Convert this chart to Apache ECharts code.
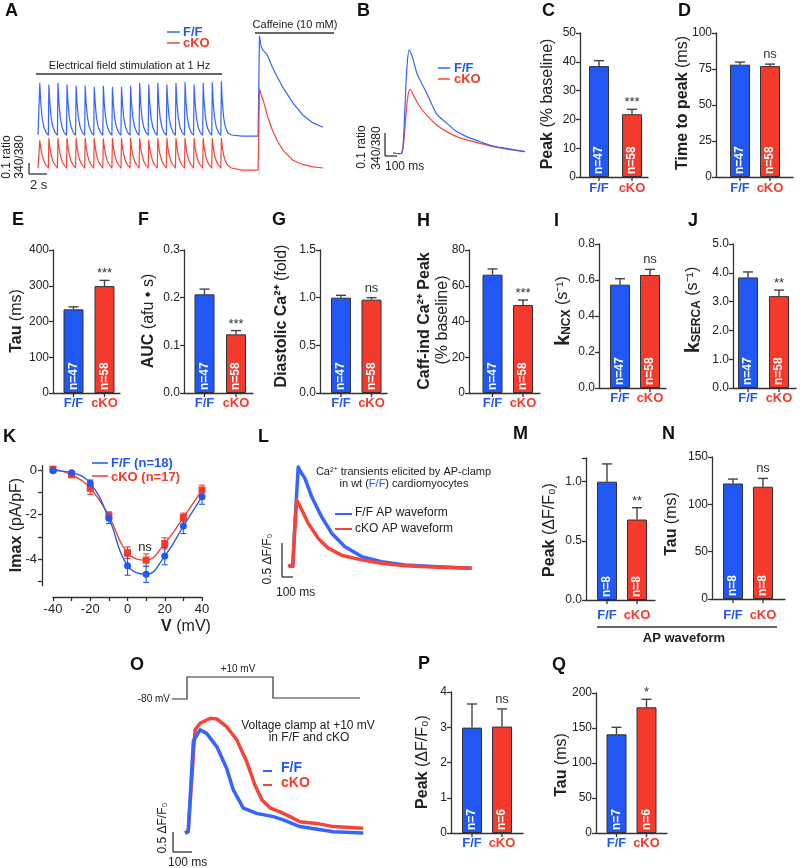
<!DOCTYPE html>
<html><head><meta charset="utf-8">
<script src="https://cdn.jsdelivr.net/npm/echarts@6/dist/echarts.min.js"></script>
<style>html,body{margin:0;padding:0;background:#fff}#c{width:800px;height:868px}</style>
</head><body><div id="c"></div>
<script>
// ================= DATA =================
const groups = ['F/F', 'cKO'];
// Panel A: field stimulation + caffeine, [time s, ratio]
const fieldStimFF = [
[0,0.30],
[0.14,0.30],[0.2,0.77],[0.3,0.60],[0.45,0.46],[0.65,0.37],[0.9,0.32],
[1.14,0.30],[1.2,0.755],[1.3,0.60],[1.45,0.46],[1.65,0.37],[1.9,0.32],
[2.14,0.30],[2.2,0.77],[2.3,0.60],[2.45,0.46],[2.65,0.37],[2.9,0.32],
[3.14,0.30],[3.2,0.755],[3.3,0.60],[3.45,0.46],[3.65,0.37],[3.9,0.32],
[4.14,0.30],[4.2,0.745],[4.3,0.59],[4.45,0.46],[4.65,0.37],[4.9,0.32],
[5.14,0.30],[5.2,0.745],[5.3,0.59],[5.45,0.46],[5.65,0.37],[5.9,0.32],
[6.14,0.30],[6.2,0.733],[6.3,0.59],[6.45,0.45],[6.65,0.37],[6.9,0.32],
[7.14,0.30],[7.2,0.745],[7.3,0.59],[7.45,0.46],[7.65,0.37],[7.9,0.32],
[8.14,0.30],[8.2,0.733],[8.3,0.59],[8.45,0.45],[8.65,0.37],[8.9,0.32],
[9.14,0.30],[9.2,0.733],[9.3,0.59],[9.45,0.45],[9.65,0.37],[9.9,0.32],
[10.14,0.30],[10.2,0.745],[10.3,0.59],[10.45,0.46],[10.65,0.37],[10.9,0.32],
[11.14,0.30],[11.2,0.77],[11.3,0.60],[11.45,0.46],[11.65,0.37],[11.9,0.32],
[12.14,0.30],[12.2,0.755],[12.3,0.60],[12.45,0.46],[12.65,0.37],[12.9,0.32],
[13.14,0.30],[13.2,0.77],[13.3,0.60],[13.45,0.46],[13.65,0.37],[13.9,0.32],
[14.14,0.30],[14.2,0.755],[14.3,0.60],[14.45,0.46],[14.65,0.37],[14.9,0.32],
[15.14,0.30],[15.2,0.77],[15.3,0.60],[15.45,0.46],[15.65,0.37],[15.9,0.32],
[16.14,0.30],[16.2,0.776],[16.3,0.60],[16.45,0.46],[16.65,0.37],[16.9,0.32],
[17.14,0.30],[17.2,0.755],[17.3,0.60],[17.45,0.46],[17.65,0.37],[17.9,0.32],
[18.14,0.30],[18.2,0.77],[18.3,0.60],[18.45,0.46],[18.65,0.37],[18.9,0.32],
[19.14,0.30],[19.2,0.776],[19.3,0.60],[19.45,0.46],[19.65,0.37],[19.9,0.32],
[20.14,0.30],[20.2,0.785],[20.3,0.61],[20.45,0.46],[20.65,0.37],[20.9,0.32],
[21.3,0.30],[22.5,0.29],[23.5,0.29],[24.25,0.29],[24.4,1.20],[24.6,1.10],[24.8,1.07],[25.25,1.03],[25.8,0.92],[26.35,0.83],[27.0,0.73],[28.1,0.59],[29.2,0.48],[30.3,0.41],[31.4,0.37]
];
const fieldStimCKO = [
[0,0.0],
[0.14,0.0],[0.2,0.25],[0.3,0.18],[0.45,0.12],[0.65,0.06],[0.9,0.025],
[1.14,0.0],[1.2,0.27],[1.3,0.19],[1.45,0.12],[1.65,0.06],[1.9,0.025],
[2.14,0.0],[2.2,0.27],[2.3,0.19],[2.45,0.12],[2.65,0.06],[2.9,0.025],
[3.14,0.0],[3.2,0.27],[3.3,0.19],[3.45,0.12],[3.65,0.06],[3.9,0.025],
[4.14,0.0],[4.2,0.27],[4.3,0.19],[4.45,0.12],[4.65,0.06],[4.9,0.025],
[5.14,0.0],[5.2,0.27],[5.3,0.19],[5.45,0.12],[5.65,0.06],[5.9,0.025],
[6.14,0.0],[6.2,0.27],[6.3,0.19],[6.45,0.12],[6.65,0.06],[6.9,0.025],
[7.14,0.0],[7.2,0.265],[7.3,0.19],[7.45,0.12],[7.65,0.06],[7.9,0.025],
[8.14,0.0],[8.2,0.27],[8.3,0.19],[8.45,0.12],[8.65,0.06],[8.9,0.025],
[9.14,0.0],[9.2,0.27],[9.3,0.19],[9.45,0.12],[9.65,0.06],[9.9,0.025],
[10.14,0.0],[10.2,0.27],[10.3,0.19],[10.45,0.12],[10.65,0.06],[10.9,0.025],
[11.14,0.0],[11.2,0.27],[11.3,0.19],[11.45,0.12],[11.65,0.06],[11.9,0.025],
[12.14,0.0],[12.2,0.255],[12.3,0.18],[12.45,0.12],[12.65,0.06],[12.9,0.025],
[13.14,0.0],[13.2,0.27],[13.3,0.19],[13.45,0.12],[13.65,0.06],[13.9,0.025],
[14.14,0.0],[14.2,0.27],[14.3,0.19],[14.45,0.12],[14.65,0.06],[14.9,0.025],
[15.14,0.0],[15.2,0.27],[15.3,0.19],[15.45,0.12],[15.65,0.06],[15.9,0.025],
[16.14,0.0],[16.2,0.27],[16.3,0.19],[16.45,0.12],[16.65,0.06],[16.9,0.025],
[17.14,0.0],[17.2,0.27],[17.3,0.19],[17.45,0.12],[17.65,0.06],[17.9,0.025],
[18.14,0.0],[18.2,0.27],[18.3,0.19],[18.45,0.12],[18.65,0.06],[18.9,0.025],
[19.14,0.0],[19.2,0.27],[19.3,0.19],[19.45,0.12],[19.65,0.06],[19.9,0.025],
[20.14,0.0],[20.2,0.27],[20.3,0.19],[20.45,0.12],[20.65,0.06],[20.9,0.025],
[21.3,0.0],[22.5,-0.02],[23.5,-0.02],[24.25,-0.02],[24.4,0.72],[24.6,0.66],[24.8,0.62],[25.25,0.48],[25.8,0.35],[26.35,0.25],[27.0,0.16],[28.1,0.07],[29.2,0.03],[30.3,0.01],[31.4,0.0]
];
// Panel B: averaged transient, [time ms, ratio]
const avgTransientFF = [[0,0],[50,-0.003],[72,0],[85,0.04],[100,0.2],[117,0.38],[136,0.448],[169,0.404],[197,0.35],[225,0.317],[281,0.26],[364,0.17],[447,0.13],[531,0.093],[614,0.071],[725,0.049],[833,0.03],[947,0.02],[1100,0.006]];
const avgTransientCKO = [[0,0],[50,-0.003],[74,0],[90,0.05],[110,0.18],[125,0.25],[142,0.277],[183,0.238],[225,0.20],[281,0.165],[364,0.122],[447,0.093],[531,0.071],[614,0.057],[725,0.042],[833,0.028],[947,0.017],[1100,0.006]];
// Panels C-J bars
const peakBaseline = [38.5, 21.8], peakBaselineErr = [1.9, 1.7];
const timeToPeak = [78, 77], timeToPeakErr = [1.8, 1.4];
const tauMs = [234, 299], tauMsErr = [7, 16];
const aucAfu = [0.207, 0.123], aucAfuErr = [0.011, 0.008];
const diastolicCa = [1.0, 0.979], diastolicCaErr = [0.025, 0.021];
const caffPeak = [66.2, 49.2], caffPeakErr = [3.2, 2.8];
const kNcx = [0.574, 0.628], kNcxErr = [0.033, 0.031];
const kSerca = [3.84, 3.19], kSercaErr = [0.19, 0.21];
const nCellsA = ['n=47', 'n=58'];
// Panel K: I-V
const kVoltage = [-40, -30, -20, -10, 0, 10, 20, 30, 40];
const imaxFF = [-0.03, -0.12, -0.6, -2.17, -4.3, -4.69, -3.87, -2.52, -1.2];
const imaxFFErr = [0.05, 0.05, 0.15, 0.24, 0.43, 0.36, 0.39, 0.34, 0.34];
const imaxCKO = [0.04, -0.22, -0.82, -2.07, -3.72, -4.05, -3.3, -2.13, -0.9];
const imaxCKOErr = [0.08, 0.06, 0.28, 0.19, 0.26, 0.28, 0.25, 0.19, 0.22];
// Panel L: AP-clamp transients [time ms, dF/F0]
const apClampFF = [[0,0.05],[20,0.03],[38,0.03],[60,0.8],[85,1.56],[100,1.5],[143,1.38],[200,1.10],[285,0.79],[371,0.54],[485,0.33],[627,0.18],[798,0.10],[997,0.05],[1279,0.025],[1567,0.0]];
const apClampCKO = [[0,0.05],[20,0.03],[38,0.03],[55,0.6],[72,1.05],[115,0.90],[171,0.69],[256,0.46],[342,0.31],[456,0.20],[627,0.13],[798,0.077],[997,0.04],[1279,0.015],[1567,0.0]];
// Panels M, N
const apPeak = [1.0, 0.68], apPeakErr = [0.15, 0.10];
const apTau = [122, 118.6], apTauErr = [4.7, 8.8];
const nCellsB = ['n=8', 'n=8'];
// Panel O: voltage clamp transients [time ms, dF/F0]
const vClampFF = [[0,0],[17,0.03],[44,2.3],[79,2.58],[114,2.49],[167,2.16],[219,1.62],[254,1.08],[307,0.62],[377,0.49],[465,0.41],[517,0.33],[605,0.16],[781,0.03],[938,0]];
const vClampCKO = [[0,0],[17,0.05],[53,2.58],[79,2.74],[132,2.87],[168,2.85],[219,2.66],[272,2.33],[325,1.78],[368,1.2],[405,0.83],[447,0.63],[500,0.53],[553,0.41],[605,0.28],[693,0.24],[781,0.16],[938,0.12]];
// Panels P, Q
const vcPeak = [2.99, 3.02], vcPeakErr = [0.67, 0.5];
const vcTau = [141, 179.5], vcTauErr = [10, 11.5];
const nCellsC = ['n=7', 'n=6'];

// ================= STYLE / LAYOUT =================
const FONT = "'Liberation Sans', Arial, Helvetica, sans-serif";
const BLUE = '#2157f2', RED = '#f43a2c', AX = '#333', TXT = '#222';
const TBLUE = '#3564ff', TRED = '#f5443a';
const grids = [], xAxes = [], yAxes = [], series = [], graphics = [];

function addGrid(g, xa, ya) {
  grids.push(g); const gi = grids.length - 1;
  xa.gridIndex = gi; ya.gridIndex = gi; xAxes.push(xa); yAxes.push(ya); return gi;
}
function axLine() { return {show: true, onZero: false, lineStyle: {color: AX, width: 1.3}}; }
function axTick() { return {show: true, length: 4, lineStyle: {color: AX, width: 1.3}}; }

function barPanel(L, vals, errs, nLab, sig) {
  const s = L.c2 - L.c1;
  const xmin = -(L.c1 - L.ax) / s, xmax = 1 + (L.end - L.c2) / s;
  const gi = addGrid({left: L.ax, top: L.yt, width: L.end - L.ax, height: L.y0 - L.yt},
    {type: 'value', min: xmin, max: xmax, axisLine: axLine(), axisTick: {show: false}, axisLabel: {show: false}, splitLine: {show: false}},
    {type: 'value', min: 0, max: L.max, interval: L.int, axisLine: axLine(), axisTick: axTick(), splitLine: {show: false},
     axisLabel: {fontSize: 12, color: TXT, fontFamily: FONT, margin: 4,
       formatter: v => (Math.abs(v / L.int - Math.round(v / L.int)) < 1e-6 ? v.toFixed(L.dec) : '')}});
  series.push({type: 'bar', xAxisIndex: gi, yAxisIndex: gi, barWidth: 20, z: 2,
    data: vals.map((v, i) => ({value: [i, v], itemStyle: {color: i ? RED : BLUE}})),
    itemStyle: {borderColor: '#333', borderWidth: 1},
    label: {show: true, position: 'insideBottom', rotate: 90, align: 'left', verticalAlign: 'middle', distance: 3,
      color: '#fff', fontWeight: 'bold', fontSize: 12, fontFamily: FONT, formatter: p => nLab[p.dataIndex]}});
  series.push({type: 'custom', xAxisIndex: gi, yAxisIndex: gi, z: 3,
    data: vals.map((v, i) => [i, v, errs[i]]),
    renderItem: (params, api) => {
      const i = api.value(0), v = api.value(1), e = api.value(2);
      const pb = api.coord([i, v]), pt = api.coord([i, v + e]), p0 = api.coord([i, 0]);
      const ch = [
        {type: 'line', shape: {x1: pb[0], y1: pb[1], x2: pt[0], y2: pt[1]}, style: {stroke: '#444', lineWidth: 1.4}},
        {type: 'line', shape: {x1: pt[0] - 5, y1: pt[1], x2: pt[0] + 5, y2: pt[1]}, style: {stroke: '#444', lineWidth: 1.4}},
        {type: 'line', shape: {x1: p0[0], y1: p0[1], x2: p0[0], y2: p0[1] + 4}, style: {stroke: AX, lineWidth: 1.3}},
        {type: 'text', style: {text: groups[i], x: p0[0], y: p0[1] + L.lab, fill: i ? RED : BLUE, textFill: i ? RED : BLUE,
          fontSize: 13, fontWeight: 'bold', fontFamily: FONT, align: 'center', textAlign: 'center',
          verticalAlign: 'middle', textVerticalAlign: 'middle', legacy: false}}
      ];
      if (sig[i]) {
        const ast = sig[i].indexOf('*') >= 0;
        ch.push({type: 'text', style: {text: sig[i], x: pt[0], y: pt[1] - (ast ? 0 : 3), fill: '#333', textFill: '#333',
          fontSize: 13, fontFamily: FONT, align: 'center', textAlign: 'center',
          verticalAlign: 'bottom', textVerticalAlign: 'bottom', legacy: false}});
      }
      return {type: 'group', children: ch};
    }});
}

function tracePanel(g, xr, yr) {
  return addGrid(g, {type: 'value', min: xr[0], max: xr[1], show: false, splitLine: {show: false}},
                    {type: 'value', min: yr[0], max: yr[1], show: false, splitLine: {show: false}});
}
function trace(gi, data, color, w, smooth) {
  series.push({type: 'line', xAxisIndex: gi, yAxisIndex: gi, data, showSymbol: false, symbol: 'none',
    smooth: smooth || false, clip: false, lineStyle: {color, width: w, join: 'round'}, z: 2});
}

function T(x, y, text, o) {
  o = o || {};
  const color = o.color || TXT, align = o.align || 'center', va = o.va || 'middle';
  const st = {text, x: 0, y: 0, fill: color, textFill: color, fontSize: o.size || 13, fontWeight: o.weight || 'normal',
    fontFamily: FONT, align, textAlign: align, verticalAlign: va, textVerticalAlign: va, legacy: false};
  if (o.rich) st.rich = o.rich;
  return {type: 'text', x, y, rotation: o.rot || 0, style: st, silent: true, z: 100};
}
function Ln(x1, y1, x2, y2, color, w) {
  return {type: 'line', shape: {x1, y1, x2, y2}, style: {stroke: color || AX, lineWidth: w || 1.3}, silent: true, z: 100};
}
const ROT = Math.PI / 2;
const R16 = {b: {fontSize: 16, fontWeight: 'bold', fontFamily: FONT}, n: {fontSize: 16, fontFamily: FONT}};
const RSUB = {k: {fontSize: 20, fontWeight: 'bold', fontFamily: FONT},
  s: {fontSize: 12, fontWeight: 'bold', fontFamily: FONT, verticalAlign: 'bottom', lineHeight: 8},
  n: {fontSize: 16, fontFamily: FONT}};

// ---------- Panel A ----------
const gA = tracePanel({left: 38, top: 30.5, width: 285, height: 143}, [0, 31.4], [-0.05, 1.25]);
trace(gA, fieldStimFF, TBLUE, 1.2);
trace(gA, fieldStimCKO, TRED, 1.2);
// ---------- Panel B ----------
const gB = tracePanel({left: 393, top: 47.2, width: 132, height: 110.4}, [0, 1100], [-0.02, 0.46]);
trace(gB, avgTransientCKO, TRED, 1.2, 0.3);
trace(gB, avgTransientFF, TBLUE, 1.2, 0.3);

// ---------- Bar panels ----------
barPanel({ax: 580, c1: 599, c2: 632, end: 648, y0: 177, yt: 33, max: 50, int: 10, dec: 0, lab: 11}, peakBaseline, peakBaselineErr, nCellsA, [null, '***']);
barPanel({ax: 716, c1: 740, c2: 770, end: 793, y0: 177, yt: 33, max: 100, int: 25, dec: 0, lab: 11}, timeToPeak, timeToPeakErr, nCellsA, [null, 'ns']);
barPanel({ax: 53, c1: 73.5, c2: 104.5, end: 120, y0: 393, yt: 250, max: 400, int: 100, dec: 0, lab: 10}, tauMs, tauMsErr, nCellsA, [null, '***']);
barPanel({ax: 184, c1: 204.5, c2: 236, end: 253, y0: 393, yt: 250, max: 0.3, int: 0.1, dec: 1, lab: 10}, aucAfu, aucAfuErr, nCellsA, [null, '***']);
barPanel({ax: 320, c1: 341, c2: 371.5, end: 387, y0: 393, yt: 250, max: 1.5, int: 0.5, dec: 1, lab: 10}, diastolicCa, diastolicCaErr, nCellsA, [null, 'ns']);
barPanel({ax: 469, c1: 492.5, c2: 523, end: 540, y0: 393, yt: 250, max: 80, int: 20, dec: 0, lab: 10}, caffPeak, caffPeakErr, nCellsA, [null, '***']);
barPanel({ax: 599, c1: 620, c2: 650, end: 666, y0: 388, yt: 244, max: 0.8, int: 0.2, dec: 1, lab: 10}, kNcx, kNcxErr, nCellsA, [null, 'ns']);
barPanel({ax: 733, c1: 748, c2: 779, end: 796, y0: 388, yt: 244, max: 5, int: 1, dec: 1, lab: 10}, kSerca, kSercaErr, nCellsA, [null, '**']);
barPanel({ax: 586, c1: 607, c2: 637, end: 655, y0: 600, yt: 458, max: 1.2, int: 0.5, dec: 1, lab: 15}, apPeak, apPeakErr, nCellsB, [null, '**']);
barPanel({ax: 712, c1: 733, c2: 763, end: 785, y0: 599, yt: 457, max: 150, int: 50, dec: 0, lab: 16}, apTau, apTauErr, nCellsB, [null, 'ns']);
barPanel({ax: 451, c1: 472, c2: 502, end: 523, y0: 833, yt: 692, max: 4, int: 1, dec: 0, lab: 10}, vcPeak, vcPeakErr, nCellsC, [null, 'ns']);
barPanel({ax: 596, c1: 616.5, c2: 646.5, end: 667, y0: 833, yt: 693, max: 200, int: 50, dec: 0, lab: 10}, vcTau, vcTauErr, nCellsC, [null, '*']);

// ---------- Panel K ----------
const gK = addGrid({left: 53, top: 465.55, width: 149, height: 120.15},
  {type: 'value', min: -40, max: 40, interval: 10, offset: 11.3, axisLine: axLine(), axisTick: axTick(), splitLine: {show: false},
   axisLabel: {fontSize: 13, color: TXT, fontFamily: FONT, margin: 6, formatter: v => (v % 20 === 0 ? String(v) : '')}},
  {type: 'value', min: -5.2, max: 0.2, splitNumber: 5, offset: 11, axisLine: axLine(), axisTick: axTick(), splitLine: {show: false},
   axisLabel: {fontSize: 13, color: TXT, fontFamily: FONT, margin: 5, showMinLabel: false, showMaxLabel: false,
     formatter: v => (Math.abs(v - Math.round(v)) < 1e-6 && Math.round(v) % 2 === 0 ? String(Math.round(v)) : '')}});
function errSeries(gi, xs, ys, es, color) {
  series.push({type: 'custom', xAxisIndex: gi, yAxisIndex: gi, z: 3, data: xs.map((x, i) => [x, ys[i], es[i]]),
    renderItem: (params, api) => {
      const x = api.value(0), y = api.value(1), e = api.value(2);
      const a = api.coord([x, y + e]), b = api.coord([x, y - e]);
      return {type: 'group', children: [
        {type: 'line', shape: {x1: a[0], y1: a[1], x2: b[0], y2: b[1]}, style: {stroke: color, lineWidth: 1.1}},
        {type: 'line', shape: {x1: a[0] - 3, y1: a[1], x2: a[0] + 3, y2: a[1]}, style: {stroke: color, lineWidth: 1.1}},
        {type: 'line', shape: {x1: b[0] - 3, y1: b[1], x2: b[0] + 3, y2: b[1]}, style: {stroke: color, lineWidth: 1.1}}]};
    }});
}
errSeries(gK, kVoltage, imaxCKO, imaxCKOErr, RED);
series.push({type: 'line', xAxisIndex: gK, yAxisIndex: gK, data: kVoltage.map((v, i) => [v, imaxCKO[i]]), smooth: 0.45,
  symbol: 'rect', symbolSize: 7, itemStyle: {color: RED}, lineStyle: {color: RED, width: 1.3}, z: 4, clip: false});
errSeries(gK, kVoltage, imaxFF, imaxFFErr, BLUE);
series.push({type: 'line', xAxisIndex: gK, yAxisIndex: gK, data: kVoltage.map((v, i) => [v, imaxFF[i]]), smooth: 0.45,
  symbol: 'circle', symbolSize: 7, itemStyle: {color: BLUE}, lineStyle: {color: BLUE, width: 1.3}, z: 5, clip: false});

// ---------- Panel L ----------
const gL = tracePanel({left: 288.3, top: 464.3, width: 183.3, height: 110.5}, [0, 1567], [-0.1, 1.6]);
trace(gL, apClampFF, TBLUE, 3.5);
trace(gL, apClampCKO, TRED, 3.5);
// ---------- Panel O ----------
const gO = tracePanel({left: 185, top: 713, width: 178.2, height: 124}, [0, 938], [-0.1, 3.0]);
trace(gO, vClampCKO, TRED, 3.5);
trace(gO, vClampFF, TBLUE, 3.5);

// ================= GRAPHIC ANNOTATIONS =================
const L18 = {size: 18, weight: 'bold', align: 'left', color: '#111'};
[['A', 5, 11], ['B', 357, 11], ['C', 542, 11], ['D', 678, 11], ['E', 12, 220], ['F', 138, 220], ['G', 272, 220],
 ['H', 417, 221], ['I', 554, 221], ['J', 688, 221], ['K', 3, 437], ['L', 258, 437], ['M', 513, 434], ['N', 662, 434],
 ['O', 130, 665], ['P', 418, 664], ['Q', 552, 665]].forEach(l => graphics.push(T(l[1], l[2], l[0], L18)));

// Panel A annotations
graphics.push(T(129.5, 66, 'Electrical field stimulation at 1 Hz', {size: 11}), Ln(36, 74, 222, 74));
graphics.push(T(295, 25, 'Caffeine (10 mM)', {size: 11}), Ln(255, 33, 334, 33));
graphics.push(Ln(167, 32, 180, 32, TBLUE, 1.5), T(183, 32, 'F/F', {size: 13, weight: 'bold', color: BLUE, align: 'left'}));
graphics.push(Ln(167, 43, 180, 43, TRED, 1.5), T(183, 43, 'cKO', {size: 13, weight: 'bold', color: RED, align: 'left'}));
graphics.push(Ln(29, 163, 29, 174), Ln(29, 174, 47, 174));
graphics.push(T(7, 157, '0.1 ratio', {size: 12, rot: ROT}), T(20, 157, '340/380', {size: 12, rot: ROT}));
graphics.push(T(30, 185, '2 s', {size: 13, align: 'left'}));
// Panel B annotations
graphics.push(Ln(385, 133, 385, 156), Ln(385, 156, 397, 156));
graphics.push(T(362, 147, '0.1 ratio', {size: 12, rot: ROT}), T(377, 148, '340/380', {size: 12, rot: ROT}));
graphics.push(T(385, 167, '100 ms', {size: 12, align: 'left'}));
graphics.push(Ln(438, 68, 450, 68, TBLUE, 1.5), T(454, 68, 'F/F', {size: 13, weight: 'bold', color: BLUE, align: 'left'}));
graphics.push(Ln(438, 79, 450, 79, TRED, 1.5), T(454, 79, 'cKO', {size: 13, weight: 'bold', color: RED, align: 'left'}));

// y-axis titles
graphics.push(T(548, 104, '{b|Peak}{n| (% baseline)}', {rot: ROT, rich: R16}));
graphics.push(T(683, 103, '{b|Time to peak}{n| (ms)}', {rot: ROT, rich: R16}));
graphics.push(T(17, 321, '{b|Tau}{n| (ms)}', {rot: ROT, rich: R16}));
graphics.push(T(149, 321, '{b|AUC}{n| (afu • s)}', {rot: ROT, rich: R16}));
graphics.push(T(282, 316, '{b|Diastolic Ca²⁺}{n| (fold)}', {rot: ROT, rich: R16}));
graphics.push(T(425, 321, '{b|Caff-ind Ca²⁺ Peak}', {rot: ROT, rich: R16}));
graphics.push(T(443, 320, '{n|(% baseline)}', {rot: ROT, rich: R16}));
graphics.push(T(563, 311, '{k|k}{s|NCX}{n| (s⁻¹)}', {rot: ROT, rich: RSUB}));
graphics.push(T(693, 310, '{k|k}{s|SERCA}{n| (s⁻¹)}', {rot: ROT, rich: RSUB}));
graphics.push(T(17, 525, '{b|Imax}{n| (pA/pF)}', {rot: ROT, rich: R16}));
graphics.push(T(550, 530, '{b|Peak}{n| (ΔF/F₀)}', {rot: ROT, rich: R16}));
graphics.push(T(672, 524, '{b|Tau}{n| (ms)}', {rot: ROT, rich: R16}));
graphics.push(T(423, 762, '{b|Peak}{n| (ΔF/F₀)}', {rot: ROT, rich: R16}));
graphics.push(T(562, 765, '{b|Tau}{n| (ms)}', {rot: ROT, rich: R16}));

// Panel K annotations
graphics.push(Ln(92, 463, 108, 463, BLUE, 1.5), T(111, 463, 'F/F (n=18)', {size: 13, weight: 'bold', color: BLUE, align: 'left'}));
graphics.push(Ln(92, 476, 108, 476, RED, 1.5), T(111, 477, 'cKO (n=17)', {size: 13, weight: 'bold', color: RED, align: 'left'}));
graphics.push(T(145, 547, 'ns', {size: 13}));
graphics.push(T(186, 627, '{b|V}{n| (mV)}', {rich: R16}));

// Panel L annotations
graphics.push(T(403.5, 472, 'Ca²⁺ transients elicited by AP-clamp', {size: 11}));
graphics.push(T(404, 484, 'in wt ({bl|F/F}) cardiomyocytes', {size: 11, rich: {bl: {fontSize: 11, fontFamily: FONT, fill: BLUE, color: BLUE}}}));
graphics.push(Ln(335, 514, 352, 514, TBLUE, 2), T(355, 513, 'F/F AP waveform', {size: 12, align: 'left'}));
graphics.push(Ln(335, 529, 352, 529, TRED, 2), T(355, 529, 'cKO AP waveform', {size: 12, align: 'left'}));
graphics.push(Ln(282, 543, 282, 577), Ln(282, 577, 293, 577));
graphics.push(T(268, 559, '0.5 ΔF/F₀', {size: 12, rot: ROT}), T(276, 593, '100 ms', {size: 12, align: 'left'}));

// Panel M/N underline
graphics.push(Ln(597, 627, 777, 627), T(684, 638, 'AP waveform', {size: 13, weight: 'bold'}));

// Panel O annotations
graphics.push({type: 'polyline', shape: {points: [[172, 699], [187, 699], [187, 677], [273, 677], [273, 698], [360, 698]]},
  style: {stroke: AX, lineWidth: 1.2, fill: null}, silent: true, z: 100});
graphics.push(T(170, 699, '-80 mV', {size: 10, align: 'right'}), T(238, 669, '+10 mV', {size: 10}));
graphics.push(T(308, 726, 'Voltage clamp at +10 mV', {size: 12}), T(309, 738, 'in F/F and cKO', {size: 12}));
graphics.push(Ln(263, 771, 272, 771, TBLUE, 2), T(281, 768, 'F/F', {size: 14, weight: 'bold', color: BLUE, align: 'left'}));
graphics.push(Ln(263, 785, 272, 785, TRED, 2), T(281, 783, 'cKO', {size: 14, weight: 'bold', color: RED, align: 'left'}));
graphics.push(Ln(173, 832, 173, 852), Ln(173, 852, 192, 852));
graphics.push(T(162.5, 828, '0.5 ΔF/F₀', {size: 12, rot: ROT}), T(168, 863, '100 ms', {size: 12, align: 'left'}));

const chart = echarts.init(document.getElementById('c'), null, {renderer: 'canvas'});
chart.setOption({animation: false, backgroundColor: '#fff', grid: grids, xAxis: xAxes, yAxis: yAxes, series, graphic: graphics});
</script></body></html>
